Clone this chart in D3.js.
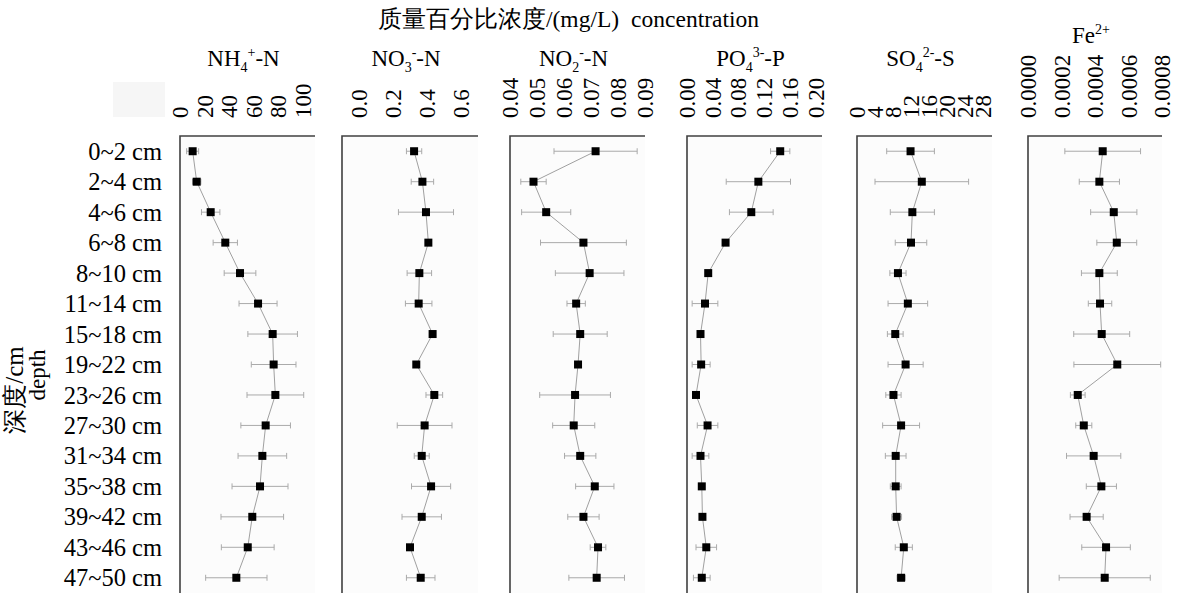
<!DOCTYPE html>
<html lang="zh">
<head>
<meta charset="UTF-8">
<title>concentration</title>
<script src="https://cdn.jsdelivr.net/npm/d3@7"></script>
<style>
    body { margin: 0; background: #fff; }
    text { font-family: "Liberation Serif", "Times New Roman", serif; fill: #000; }
</style>
</head>
<body>
<div id="chart"></div>
<script>
    var depths = ["0~2 cm", "2~4 cm", "4~6 cm", "6~8 cm", "8~10 cm", "11~14 cm", "15~18 cm", "19~22 cm",
        "23~26 cm", "27~30 cm", "31~34 cm", "35~38 cm", "39~42 cm", "43~46 cm", "47~50 cm"];

    var nh4 = [10.3, 13.6, 25.0, 36.9, 48.9, 63.6, 75.5, 76.3, 77.7, 69.8, 67.1, 65.2, 58.9, 55.2, 45.9];
    var nh4Err = [4.9, 3.4, 7.5, 9.9, 12.9, 15.5, 20.2, 18.2, 23.1, 20.2, 19.8, 22.8, 25.5, 21.5, 25.0];

    var no3 = [0.324, 0.373, 0.394, 0.408, 0.355, 0.351, 0.433, 0.337, 0.443, 0.386, 0.369, 0.424, 0.369, 0.300, 0.363];
    var no3Err = [0.045, 0.066, 0.162, 0, 0.072, 0.078, 0, 0, 0.049, 0.161, 0.044, 0.115, 0.116, 0, 0.084];

    var no2 = [0.0717, 0.0487, 0.0534, 0.0672, 0.0695, 0.0645, 0.0660, 0.0652, 0.0641, 0.0636, 0.0660, 0.0714, 0.0672, 0.0726, 0.0721];
    var no2Err = [0.0154, 0.0047, 0.0091, 0.0159, 0.0127, 0.0034, 0.0100, 0.0010, 0.0131, 0.0078, 0.0058, 0.0071, 0.0058, 0.0029, 0.0103];

    var po4 = [0.145, 0.111, 0.100, 0.060, 0.033, 0.028, 0.021, 0.022, 0.014, 0.032, 0.021, 0.023, 0.024, 0.030, 0.023];
    var po4Err = [0.015, 0.050, 0.034, 0, 0, 0.020, 0, 0.014, 0.003, 0.016, 0.013, 0, 0.003, 0.016, 0.013];

    var so4 = [11.9, 14.4, 12.3, 12.0, 9.1, 11.3, 8.5, 10.8, 8.1, 9.8, 8.6, 8.6, 8.8, 10.4, 9.8];
    var so4Err = [5.3, 10.4, 4.9, 3.5, 1.8, 4.4, 1.75, 3.9, 1.7, 4.1, 2.3, 1.2, 1.1, 1.9, 0.9];

    var fe = [0.000446, 0.000426, 0.000512, 0.000530, 0.000426, 0.000430, 0.000440, 0.000533, 0.000297, 0.000333,
        0.000392, 0.000438, 0.000350, 0.000466, 0.000458];
    var feErr = [0.000226, 0.000120, 0.000138, 0.000119, 0.000107, 0.000070, 0.000167, 0.000259, 0.000044, 0.000048,
        0.000162, 0.000090, 0.000099, 0.000145, 0.000272];

    var nh4Ticks = [0, 20, 40, 60, 80, 100];
    var no3Ticks = [0, 0.2, 0.4, 0.6];
    var no2Ticks = [0.04, 0.05, 0.06, 0.07, 0.08, 0.09];
    var po4Ticks = [0, 0.04, 0.08, 0.12, 0.16, 0.20];
    var so4Ticks = [0, 4, 8, 12, 16, 20, 24, 28];
    var feTicks = [0, 0.0002, 0.0004, 0.0006, 0.0008];

    var w = 1179,
        h = 594,
        plotTop = 136,
        plotBottom = 593,
        fs = "23px";

    // one entry per panel: title pieces [text, "sub"/"sup"/""], data, scale domain, frame x
    var panels = [
        { title: [["NH", ""], ["4", "sub"], ["+", "sup"], ["-N", ""]], v: nh4, e: nh4Err, dom: [0, 110], ticks: nh4Ticks, fmt: "d", x0: 180, x1: 315, ty: 66 },
        { title: [["NO", ""], ["3", "sub"], ["-", "sup"], ["-N", ""]], v: no3, e: no3Err, dom: [-0.1, 0.7], ticks: no3Ticks, fmt: ".1f", x0: 342, x1: 478, ty: 66 },
        { title: [["NO", ""], ["2", "sub"], ["-", "sup"], ["-N", ""]], v: no2, e: no2Err, dom: [0.04, 0.09], ticks: no2Ticks, fmt: ".2f", x0: 510, x1: 645, ty: 66 },
        { title: [["PO", ""], ["4", "sub"], ["3-", "sup"], ["-P", ""]], v: po4, e: po4Err, dom: [0, 0.21], ticks: po4Ticks, fmt: ".2f", x0: 687, x1: 822, ty: 66 },
        { title: [["SO", ""], ["4", "sub"], ["2-", "sup"], ["-S", ""]], v: so4, e: so4Err, dom: [0, 30], ticks: so4Ticks, fmt: "d", x0: 857, x1: 992, ty: 66 },
        { title: [["Fe", ""], ["2+", "sup"]], v: fe, e: feErr, dom: [0, 0.0008], ticks: feTicks, fmt: ".4f", x0: 1028, x1: 1162, ty: 43 }
    ];

    var svg = d3.select("#chart").append("svg")
        .attr("width", w)
        .attr("height", h);

    var y = d3.scalePoint()
        .domain(depths)
        .range([plotTop, plotBottom])
        .padding(0.5);

    // faint box at top-left
    svg.append("rect")
        .attr("x", 113).attr("y", 82)
        .attr("width", 52).attr("height", 35)
        .attr("fill", "#f6f6f6");

    // headline
    var head = svg.append("text")
        .attr("x", 378).attr("y", 27)
        .style("font-size", "23.5px");
    head.append("tspan").text("质量百分比浓度/(mg/L)");
    head.append("tspan").attr("dx", 12).text("concentration");

    // y axis title
    svg.append("text")
        .attr("transform", "translate(23,390) rotate(-90)")
        .attr("text-anchor", "middle")
        .style("font-size", "25px")
        .text("深度/cm");
    svg.append("text")
        .attr("transform", "translate(45,375) rotate(-90)")
        .attr("text-anchor", "middle")
        .style("font-size", fs)
        .text("depth");

    // depth labels
    svg.selectAll("text.depth")
        .data(depths)
        .enter().append("text")
        .attr("class", "depth")
        .attr("x", 162)
        .attr("y", function(d) { return y(d); })
        .attr("dy", "0.35em")
        .attr("text-anchor", "end")
        .style("font-size", "24.5px")
        .text(function(d) { return d; });

    panels.forEach(function(p) {
        var x = d3.scaleLinear().domain(p.dom).range([p.x0, p.x1]);
        var g = svg.append("g");

        g.append("rect")
            .attr("x", p.x0).attr("y", plotTop)
            .attr("width", p.x1 - p.x0).attr("height", plotBottom - plotTop)
            .attr("fill", "#fcfcfc");

        // title
        var t = g.append("text")
            .attr("x", (p.x0 + p.x1) / 2 - 4)
            .attr("y", p.ty)
            .attr("text-anchor", "middle")
            .style("font-size", fs);
        var shift = 0;
        p.title.forEach(function(part) {
            var ts = t.append("tspan").text(part[0]);
            var target = part[1] == "sub" ? 6 : part[1] == "sup" ? -9 : 0;
            ts.attr("dy", target - shift);
            if (part[1]) ts.style("font-size", "14px");
            shift = target;
        });

        // tick labels, rotated
        g.selectAll("text.tick")
            .data(p.ticks)
            .enter().append("text")
            .attr("class", "tick")
            .attr("transform", function(d) { return "translate(" + x(d) + ",118) rotate(-90)"; })
            .attr("dy", "0.35em")
            .style("font-size", fs)
            .text(function(d) { return d3.format(p.fmt)(d); });

        // frame: left and top
        g.append("path")
            .attr("d", "M" + p.x1 + "," + plotTop + "H" + p.x0 + "V" + plotBottom)
            .attr("fill", "none")
            .attr("stroke", "#404040")
            .attr("stroke-width", 1.6);

        var pts = p.v.map(function(v, i) { return { v: v, e: p.e[i], d: depths[i] }; });

        // error bars
        var eb = g.selectAll("g.err")
            .data(pts.filter(function(d) { return d.e > 0; }))
            .enter().append("g")
            .attr("class", "err")
            .attr("stroke", "#aaaaaa")
            .attr("stroke-width", 1);
        eb.append("line")
            .attr("x1", function(d) { return x(d.v - d.e); })
            .attr("x2", function(d) { return x(d.v + d.e); })
            .attr("y1", function(d) { return y(d.d); })
            .attr("y2", function(d) { return y(d.d); });
        eb.append("line")
            .attr("x1", function(d) { return x(d.v - d.e); })
            .attr("x2", function(d) { return x(d.v - d.e); })
            .attr("y1", function(d) { return y(d.d) - 3; })
            .attr("y2", function(d) { return y(d.d) + 3; });
        eb.append("line")
            .attr("x1", function(d) { return x(d.v + d.e); })
            .attr("x2", function(d) { return x(d.v + d.e); })
            .attr("y1", function(d) { return y(d.d) - 3; })
            .attr("y2", function(d) { return y(d.d) + 3; });

        // connecting line
        g.append("path")
            .datum(pts)
            .attr("fill", "none")
            .attr("stroke", "#a0a0a0")
            .attr("stroke-width", 1)
            .attr("d", d3.line()
                .x(function(d) { return x(d.v); })
                .y(function(d) { return y(d.d); }));

        // markers
        g.selectAll("rect.mk")
            .data(pts)
            .enter().append("rect")
            .attr("class", "mk")
            .attr("x", function(d) { return x(d.v) - 4; })
            .attr("y", function(d) { return y(d.d) - 4; })
            .attr("width", 8)
            .attr("height", 8)
            .attr("fill", "#000");
    });
</script>
</body>
</html>
